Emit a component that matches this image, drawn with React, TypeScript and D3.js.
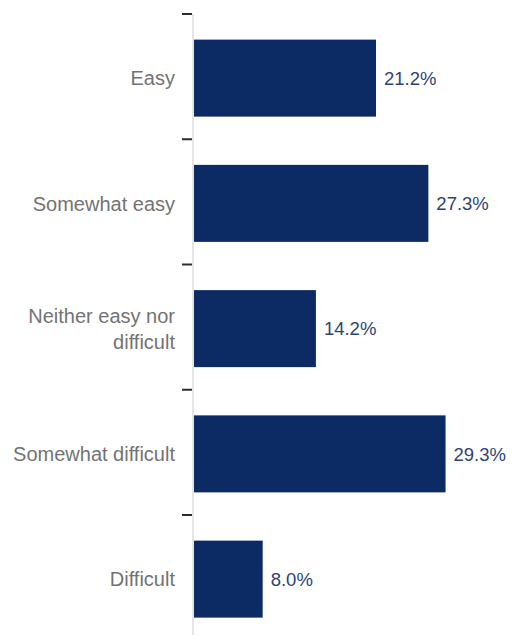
import React from "react";
import * as d3 from "d3";

const categories: string[][] = [
  ["Easy"],
  ["Somewhat easy"],
  ["Neither easy nor", "difficult"],
  ["Somewhat difficult"],
  ["Difficult"],
];
const values: number[] = [21.2, 27.3, 14.2, 29.3, 8.0];
const valueLabels: string[] = ["21.2%", "27.3%", "14.2%", "29.3%", "8.0%"];

const W = 513;
const H = 635;
const AXIS_X = 193;

export default function App() {
  const keys = categories.map((_, i) => String(i));
  const y = d3.scaleBand<string>().domain(keys).range([14, 640.25]).paddingInner(0).paddingOuter(0);
  const x = d3.scaleLinear().domain([0, 30]).range([AXIS_X + 1, AXIS_X + 1 + 30 * 8.585]);
  const step = y.step();
  const barH = 77;
  const font = "'Liberation Sans', Arial, sans-serif";

  return (
    <svg width={W} height={H} style={{ position: "absolute", left: 0, top: 0, background: "#fff" }}>
      <line x1={AXIS_X} x2={AXIS_X} y1={14} y2={H} stroke="#d4d4d4" strokeWidth={1.2} />
      {keys.map((k) => (
        <line key={"t" + k} x1={AXIS_X - 11} x2={AXIS_X - 1} y1={y(k)!} y2={y(k)!} stroke="#2b2b2b" strokeWidth={2} />
      ))}
      {keys.map((k, i) => {
        const top = y(k)! + (step - barH) / 2 + 1.5;
        const cy = top + barH / 2;
        const lines = categories[i];
        const lh = 26;
        return (
          <g key={"b" + k}>
            <rect x={x(0)} y={top} width={x(values[i]) - x(0)} height={barH} fill="#0c2a63" />
            <text
              x={x(values[i]) + 8}
              y={cy}
              dy="0.36em"
              fill="#2e4375"
              fontFamily={font}
              fontSize={18.5}
            >
              {valueLabels[i]}
            </text>
            <text
              x={AXIS_X - 18}
              y={cy - ((lines.length - 1) * lh) / 2}
              textAnchor="end"
              fill="#737373"
              fontFamily={font}
              fontSize={20}
            >
              {lines.map((l, j) => (
                <tspan key={j} x={AXIS_X - 18} dy={j === 0 ? "0.36em" : lh}>
                  {l}
                </tspan>
              ))}
            </text>
          </g>
        );
      })}
    </svg>
  );
}
